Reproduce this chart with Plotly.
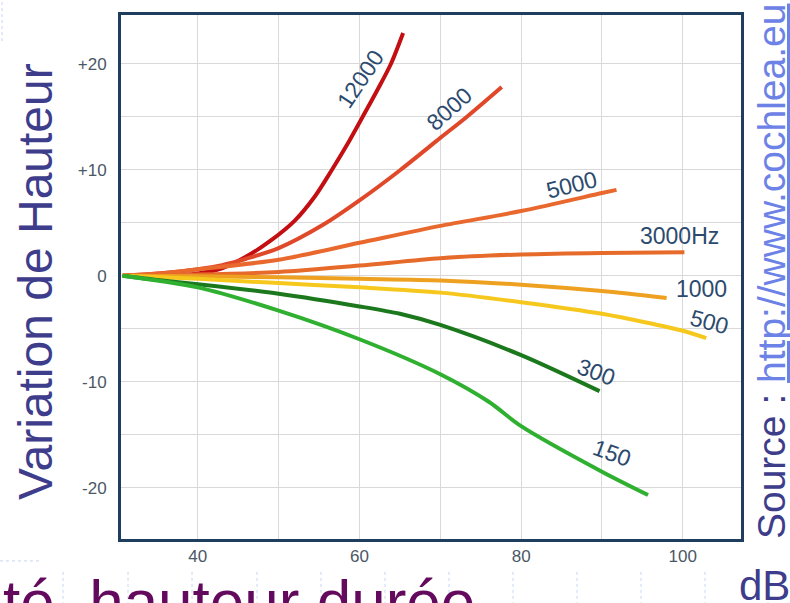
import plotly.graph_objects as go

# ---------------- data ----------------
freq_labels = ["12000", "8000", "5000", "3000Hz", "1000", "500", "300", "150"]

x_12000 = [30.7, 36, 40, 43, 46, 49, 52, 54.5, 56.6, 58.5, 60.4, 62.2, 63.9, 65.4]
y_12000 = [0, 0, 0.2, 0.7, 1.8, 3.3, 5.2, 7.5, 10, 12.4, 15, 17.5, 20, 22.9]

x_8000 = [30.7, 35, 40, 43, 46, 50, 55.5, 60, 65.1, 70, 73.3, 77.6]
y_8000 = [0, 0.2, 0.6, 1.0, 1.6, 2.6, 4.8, 7.1, 10, 13, 15, 17.8]

x_5000 = [30.7, 35, 40, 50, 60, 70, 80, 90, 91.8]
y_5000 = [0, 0.2, 0.6, 1.5, 3.1, 4.7, 6.1, 7.8, 8.1]

x_3000 = [30.7, 40, 50, 60, 70, 80, 90, 100.2]
y_3000 = [0, 0.1, 0.35, 0.95, 1.65, 2.0, 2.15, 2.2]

x_1000 = [30.7, 40, 50, 60, 70, 80, 90, 98]
y_1000 = [0, -0.05, -0.15, -0.3, -0.45, -0.85, -1.45, -2.1]

x_500 = [30.7, 40, 50, 60, 70, 80, 90, 100, 102.9]
y_500 = [0, -0.3, -0.7, -1.1, -1.6, -2.5, -3.6, -5.2, -5.9]

x_300 = [30.7, 35, 40, 50, 60, 65, 70, 80, 89.7]
y_300 = [0, -0.4, -0.8, -1.7, -2.9, -3.6, -4.65, -7.5, -10.9]

x_150 = [30.7, 40, 50, 60, 70, 76, 80, 90, 95.7]
y_150 = [0, -1.1, -3.3, -6.0, -9.3, -11.9, -14.2, -18.5, -20.7]

x_ticks = [40, 50, 60, 70, 80, 90, 100]
x_ticktext = ["40", "", "60", "", "80", "", "100"]
y_ticks = [-20, -15, -10, -5, 0, 5, 10, 15, 20]
y_ticktext = ["-20", "", "-10", "", "0", "", "+10", "", "+20"]

y_title = "Variation de Hauteur"
x_unit = "dB"
source_prefix = "Source : "
source_link = "http://www.cochlea.eu"
bottom_text = "té, hauteur durée"

# ---------------- styling ----------------
series = [
    (x_12000, y_12000, "#c40f12"),
    (x_8000, y_8000, "#e0482a"),
    (x_5000, y_5000, "#e8682e"),
    (x_3000, y_3000, "#e66a2a"),
    (x_1000, y_1000, "#eea021"),
    (x_500, y_500, "#f6c81e"),
    (x_300, y_300, "#1c781c"),
    (x_150, y_150, "#30b030"),
]
# label positions (data coords) and angles
label_pos = [
    (60.1, 18.6, -56), (71.1, 15.7, -42), (86.2, 8.6, -14), (99.6, 3.7, 0),
    (102.3, -1.25, 0), (103.3, -4.4, 15), (89.3, -9.1, 20), (91.2, -16.7, 20),
]

W, H = 790, 603
L, R, T, B = 121, 741, 13, 539


def px(xp):
    return (xp - L) / (R - L)


def py(yp):
    return (B - yp) / (B - T)


fig = go.Figure()
for xs, ys, col in series:
    fig.add_trace(go.Scatter(x=xs, y=ys, mode="lines",
                             line=dict(color=col, width=4, shape="spline", smoothing=0.8),
                             showlegend=False, hoverinfo="skip"))

annotations = []
for txt, (lx, ly, ang) in zip(freq_labels, label_pos):
    annotations.append(dict(x=lx, y=ly, xref="x", yref="y", text=txt, showarrow=False,
                            textangle=ang, font=dict(family="Liberation Sans, Arial", size=23,
                                                     color="#2c4a6e")))

annotations.append(dict(x=px(36), y=py(281), xref="paper", yref="paper", text=y_title,
                        showarrow=False, textangle=-90, xanchor="center", yanchor="middle",
                        font=dict(family="Liberation Sans, Arial", size=48, color="#3d3d8c")))
annotations.append(dict(x=px(771), y=py(271), xref="paper", yref="paper",
                        text=source_prefix + "<span style='color:#6d82e6'><u>" + source_link + "</u></span>",
                        showarrow=False, textangle=-90, xanchor="center", yanchor="middle",
                        font=dict(family="Liberation Sans, Arial", size=39, color="#3d3d8c")))
annotations.append(dict(x=px(764), y=py(586), xref="paper", yref="paper", text=x_unit,
                        showarrow=False, xanchor="center", yanchor="middle",
                        font=dict(family="Liberation Sans, Arial", size=42, color="#3d3d8c")))
annotations.append(dict(x=px(1), y=py(565), xref="paper", yref="paper", text=bottom_text,
                        showarrow=False, xanchor="left", yanchor="top",
                        font=dict(family="Liberation Sans, Arial", size=62, color="#640a5e")))

shapes = []
dot = dict(color="#c6d4f2", width=1, dash="dot")
for xv in [63, 128, 192, 257, 321, 385, 449, 513, 577, 641, 705, 768]:
    shapes.append(dict(type="line", xref="paper", yref="paper", x0=px(xv), x1=px(xv),
                       y0=py(572), y1=py(603), line=dot, layer="below"))
shapes.append(dict(type="line", xref="paper", yref="paper", x0=px(0), x1=px(40),
                   y0=py(561), y1=py(561), line=dot, layer="below"))
shapes.append(dict(type="line", xref="paper", yref="paper", x0=px(2), x1=px(2),
                   y0=py(0), y1=py(40), line=dot, layer="below"))

fig.update_layout(
    width=W, height=H,
    margin=dict(l=L, r=W - R, t=T, b=H - B, pad=0),
    paper_bgcolor="white", plot_bgcolor="white",
    annotations=annotations, shapes=shapes,
    xaxis=dict(range=[30.5, 107.2], tickvals=x_ticks, ticktext=x_ticktext,
               showgrid=True, gridcolor="#d9d9d9", gridwidth=1, zeroline=False,
               showline=True, linecolor="#1f3d5e", linewidth=3, mirror=True,
               ticks="", ticklabelstandoff=0,
               tickfont=dict(family="Liberation Sans, Arial", size=17, color="#4a5866")),
    yaxis=dict(range=[-24.85, 24.6], tickvals=y_ticks, ticktext=y_ticktext,
               showgrid=True, gridcolor="#d9d9d9", gridwidth=1, zeroline=False,
               showline=True, linecolor="#1f3d5e", linewidth=3, mirror=True,
               ticks="", ticklabelstandoff=8,
               tickfont=dict(family="Liberation Sans, Arial", size=17, color="#4a5866")),
)

fig.write_html("out.html", config={"displayModeBar": False},
               post_script="document.body.style.margin='0';")
